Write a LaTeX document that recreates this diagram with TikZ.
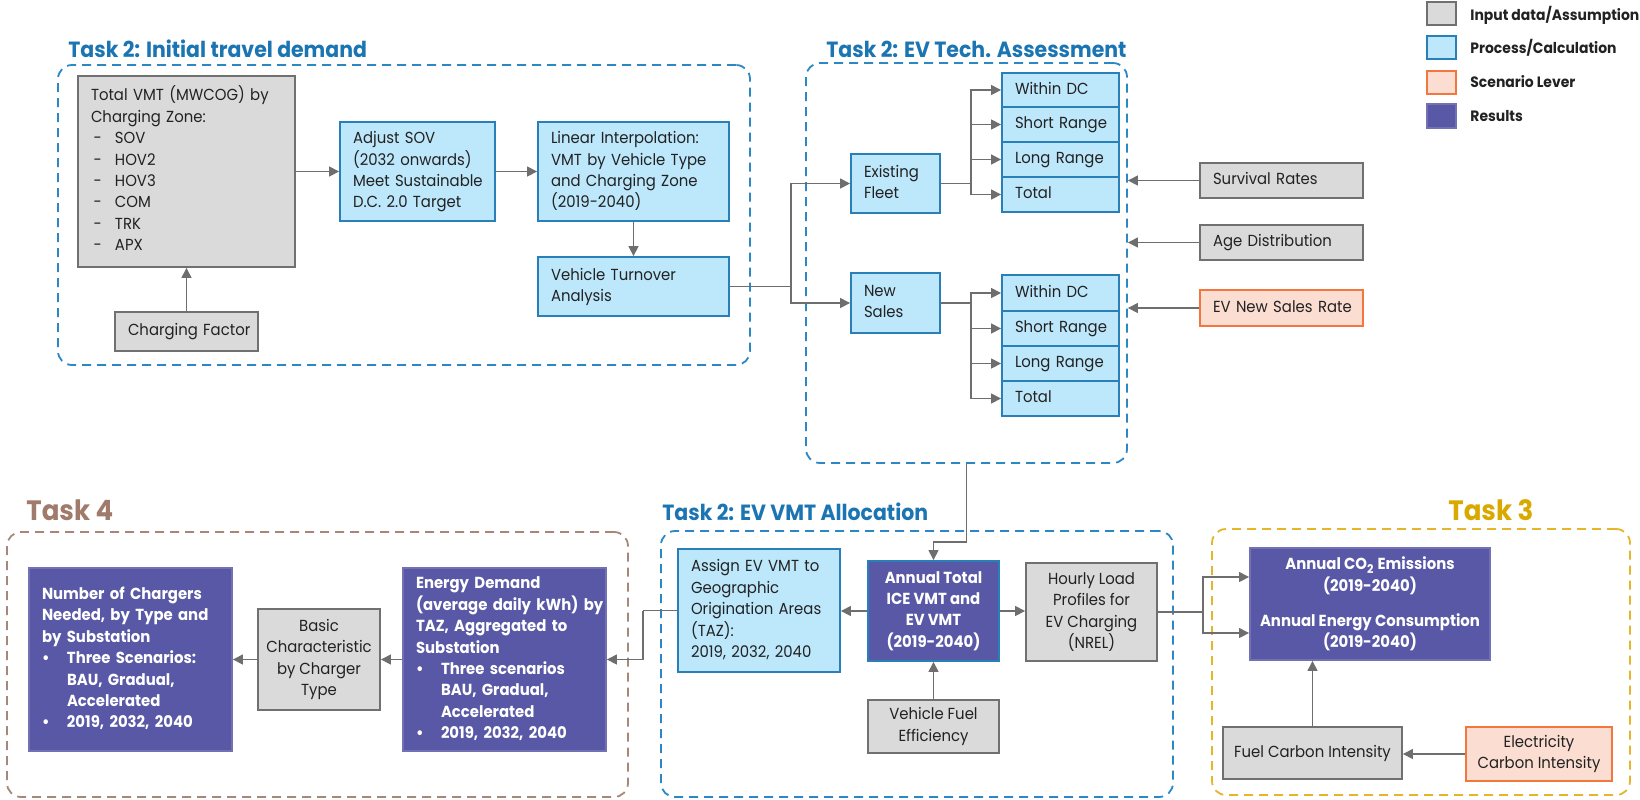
\documentclass[tikz,border=0pt]{standalone}
\usepackage{fontspec}
\setmainfont{Poppins}[FakeStretch=0.93]
\usetikzlibrary{arrows.meta,calc}
\definecolor{titleblue}{HTML}{1B75B2}
\definecolor{dashblue}{HTML}{2C87C5}
\definecolor{brownt}{HTML}{A07A6A}
\definecolor{brownd}{HTML}{A58878}
\definecolor{goldt}{HTML}{D9A900}
\definecolor{goldd}{HTML}{E5B52A}
\definecolor{grayfill}{HTML}{DADADA}
\definecolor{grayedge}{HTML}{707070}
\definecolor{bluefill}{HTML}{BDE7FB}
\definecolor{blueedge}{HTML}{2980B9}
\definecolor{orfill}{HTML}{FBDDD1}
\definecolor{oredge}{HTML}{F4763F}
\definecolor{purp}{HTML}{5858A6}
\definecolor{arrgray}{HTML}{6E6E6E}
\definecolor{txt}{HTML}{222222}
\newcommand{\bodyfont}{\fontsize{8}{10.7}\selectfont}
\newcommand{\boxgeom}[4]{%
  \pgfmathsetmacro{\bxw}{(#3-#1)*0.5}%
  \pgfmathsetmacro{\bxh}{(#4-#2)*0.5}%
  \pgfmathsetmacro{\bxt}{(#3-#1)*0.5-13}%
  \pgfmathsetmacro{\bxx}{(#1+#3)/2}%
  \pgfmathsetmacro{\bxy}{(#2+#4)/2}}
% left-aligned box: style, name, x1, y1, x2, y2, text
\newcommand{\lbox}[7]{\boxgeom{#3}{#4}{#5}{#6}%
  \node[#1, align=left, minimum width=\bxw pt, minimum height=\bxh pt, text width=\bxt pt] (#2) at (\bxx,\bxy) {\begin{tabular}{@{}l@{}}#7\end{tabular}};}
% centred box: style, name, x1, y1, x2, y2, text
\newcommand{\cbox}[7]{\boxgeom{#3}{#4}{#5}{#6}%
  \node[#1, align=center, inner xsep=2pt, minimum width=\bxw pt, minimum height=\bxh pt] (#2) at (\bxx,\bxy) {#7};}
\newcommand{\ditem}[1]{\makebox[12pt][l]{\,-}#1}
\newcommand{\bitem}[1]{\makebox[12.5pt][l]{\textbullet}#1}
\newcommand{\bcont}[1]{\hspace*{12.5pt}#1}
\begin{document}
\begin{tikzpicture}[x=0.5pt,y=-0.5pt,
  base/.style={inner xsep=6.5pt, inner ysep=0pt, font=\bodyfont, line width=0.9pt, text=txt},
  gbox/.style={base, draw=grayedge, fill=grayfill},
  bbox/.style={base, draw=blueedge, fill=bluefill},
  obox/.style={base, draw=oredge, fill=orfill},
  pbox/.style={base, draw=purp!85!white, fill=purp, text=white, font=\bodyfont\bfseries},
  dbox/.style={draw=#1, dash pattern=on 4.5pt off 3pt, line width=0.9pt, rounded corners=7pt, inner sep=0pt},
  ttl/.style={anchor=base west, inner sep=0pt, font=\fontsize{11}{13}\selectfont\bfseries, text=titleblue},
  bigttl/.style={anchor=base west, inner sep=0pt, font=\fontsize{14}{16}\selectfont\bfseries},
  legtxt/.style={anchor=west, inner sep=0pt, font=\fontsize{7.5}{9}\selectfont\bfseries, text=txt},
  conn/.style={draw=arrgray, line width=0.6pt},
  arr/.style={conn, -{Triangle[length=5pt,width=5pt]}}
]
\useasboundingbox (0,0) rectangle (1640,799);

% dashed group frames
\cbox{dbox=dashblue}{t2a}{58}{65}{750}{365}{}
\cbox{dbox=dashblue}{t2b}{806}{63}{1127}{463}{}
\cbox{dbox=dashblue}{t2c}{661}{531}{1173}{797}{}
\cbox{dbox=brownd}{t4}{7}{532}{628}{797}{}
\cbox{dbox=goldd}{t3}{1212}{529}{1630}{795}{}

% titles
\node[ttl] (ttla) at (68,57) {Task 2: Initial travel demand};
\node[ttl] (ttlb) at (826,57) {Task 2: EV Tech. Assessment};
\node[ttl] (ttlc) at (662,520) {Task 2: EV VMT Allocation};
\node[bigttl, text=brownt] (ttl4) at (26,520) {Task 4};
\node[bigttl, text=goldt] (ttl3) at (1448,520) {Task 3};

% legend
\cbox{gbox}{lg1}{1427}{2}{1456}{25}{}
\cbox{bbox}{lg2}{1427}{36}{1456}{59}{}
\cbox{obox}{lg3}{1427}{71}{1456}{94}{}
\cbox{pbox}{lg4}{1427}{104}{1456}{128}{}
\node[legtxt] (lt1) at (1470,15) {Input data/Assumption};
\node[legtxt] (lt2) at (1470,48) {Process/Calculation};
\node[legtxt] (lt3) at (1470,82) {Scenario Lever};
\node[legtxt] (lt4) at (1470,116) {Results};

% Task 2 initial travel demand
\lbox{gbox}{tv}{78}{76}{295}{267}{Total VMT (MWCOG) by\\Charging Zone:\\\ditem{SOV}\\\ditem{HOV2}\\\ditem{HOV3}\\\ditem{COM}\\\ditem{TRK}\\\ditem{APX}}
\lbox{gbox}{cf}{115}{312}{258}{351}{Charging Factor}
\lbox{bbox}{adj}{340}{122}{495}{221}{Adjust SOV\\(2032 onwards)\\Meet Sustainable\\D.C. 2.0 Target}
\lbox{bbox}{lin}{538}{122}{729}{221}{Linear Interpolation:\\VMT by Vehicle Type\\and Charging Zone\\(2019-2040)}
\lbox{bbox}{vt}{538}{257}{729}{316}{Vehicle Turnover\\Analysis}

% Task 2 EV tech
\lbox{bbox}{ef}{851}{154}{940}{213}{Existing\\Fleet}
\lbox{bbox}{ns}{851}{273}{940}{333}{New\\Sales}
\lbox{bbox}{ew1}{1002}{73}{1119}{107}{Within DC}
\lbox{bbox}{ew2}{1002}{107}{1119}{142}{Short Range}
\lbox{bbox}{ew3}{1002}{142}{1119}{177}{Long Range}
\lbox{bbox}{ew4}{1002}{177}{1119}{212}{Total}
\lbox{bbox}{nw1}{1002}{275}{1119}{311}{Within DC}
\lbox{bbox}{nw2}{1002}{311}{1119}{346}{Short Range}
\lbox{bbox}{nw3}{1002}{346}{1119}{381}{Long Range}
\lbox{bbox}{nw4}{1002}{381}{1119}{416}{Total}
\lbox{gbox}{sr}{1200}{163}{1363}{198}{Survival Rates}
\lbox{gbox}{ad}{1200}{225}{1363}{260}{Age Distribution}
\lbox{obox}{evs}{1200}{290}{1363}{326}{EV New Sales Rate}

% Task 2 EV VMT allocation
\lbox{bbox}{as}{678}{549}{840}{672}{Assign EV VMT to\\Geographic\\Origination Areas\\(TAZ):\\2019, 2032, 2040}
\cbox{pbox,draw=blueedge}{at}{868}{561}{999}{661}{Annual Total\\ICE VMT and\\EV VMT\\(2019-2040)}
\cbox{gbox}{hl}{1026}{563}{1157}{661}{Hourly Load\\Profiles for\\EV Charging\\(NREL)}
\cbox{gbox}{vfe}{868}{700}{999}{753}{Vehicle Fuel\\Efficiency}

% Task 4
\lbox{pbox}{nc}{29}{568}{232}{751}{Number of Chargers\\Needed, by Type and\\by Substation\\\bitem{Three Scenarios:}\\\bcont{BAU, Gradual,}\\\bcont{Accelerated}\\\bitem{2019, 2032, 2040}\\ }
\cbox{gbox}{bc}{258}{609}{380}{710}{Basic\\Characteristic\\by Charger\\Type}
\lbox{pbox}{ed}{403}{568}{606}{751}{Energy Demand\\(average daily kWh) by\\TAZ, Aggregated to\\Substation\\\bitem{Three scenarios}\\\bcont{BAU, Gradual,}\\\bcont{Accelerated}\\\bitem{2019, 2032, 2040}}

% Task 3
\cbox{pbox}{res}{1250}{548}{1490}{660}{Annual CO\textsubscript{2} Emissions\\(2019-2040)\\[7pt]Annual Energy Consumption\\(2019-2040)}
\cbox{gbox}{fc}{1223}{727}{1402}{779}{Fuel Carbon Intensity}
\cbox{obox}{el}{1466}{727}{1612}{781}{Electricity\\Carbon Intensity}

% connectors
\draw[arr] (cf.north) -- (cf.north |- tv.south);
\draw[arr] (tv.east |- adj.west) -- (adj.west);
\draw[arr] (adj.east) -- (lin.west);
\draw[arr] (lin.south) -- (vt.north);
\coordinate (j1) at (791,286.5);
\draw[conn] (vt.east) -- (j1);
\draw[arr] (j1) |- (ef.west);
\draw[arr] (j1) |- (ns.west);
\coordinate (j2) at (971,183.5);
\draw[conn] (ef.east) -- (j2);
\foreach \n in {ew1,ew2,ew3,ew4} \draw[arr] (j2) |- (\n.west);
\coordinate (j3) at (971,303);
\draw[conn] (ns.east) -- (j3);
\foreach \n in {nw1,nw2,nw3,nw4} \draw[arr] (j3) |- (\n.west);
\draw[arr] (sr.west) -- (sr.west -| t2b.east);
\draw[arr] (ad.west) -- (ad.west -| t2b.east);
\draw[arr] (evs.west) -- (evs.west -| t2b.east);
\coordinate (j4) at (933.5,542);
\draw[arr] (t2b.south) |- (j4) -- (at.north);
\draw[arr] (at.west) -- (at.west -| as.east);
\draw[arr] (at.east) -- (at.east -| hl.west);
\draw[arr] (vfe.north) -- (at.south);
\coordinate (j5) at (643,610.5);
\draw[conn] (as.west) -- (j5);
\draw[arr] (j5) |- (ed.east);
\draw[arr] (ed.west) -- (ed.west -| bc.east);
\draw[arr] (bc.west) -- (bc.west -| nc.east);
\coordinate (j6) at (1203,612);
\draw[conn] (hl.east) -- (j6);
\draw[arr] (j6) |- ([yshift=13.5pt]res.west);
\draw[arr] (j6) |- ([yshift=-14.5pt]res.west);
\draw[arr] (fc.north) -- (fc.north |- res.south);
\draw[arr] (el.west) -- (el.west -| fc.east);
\end{tikzpicture}
\end{document}
